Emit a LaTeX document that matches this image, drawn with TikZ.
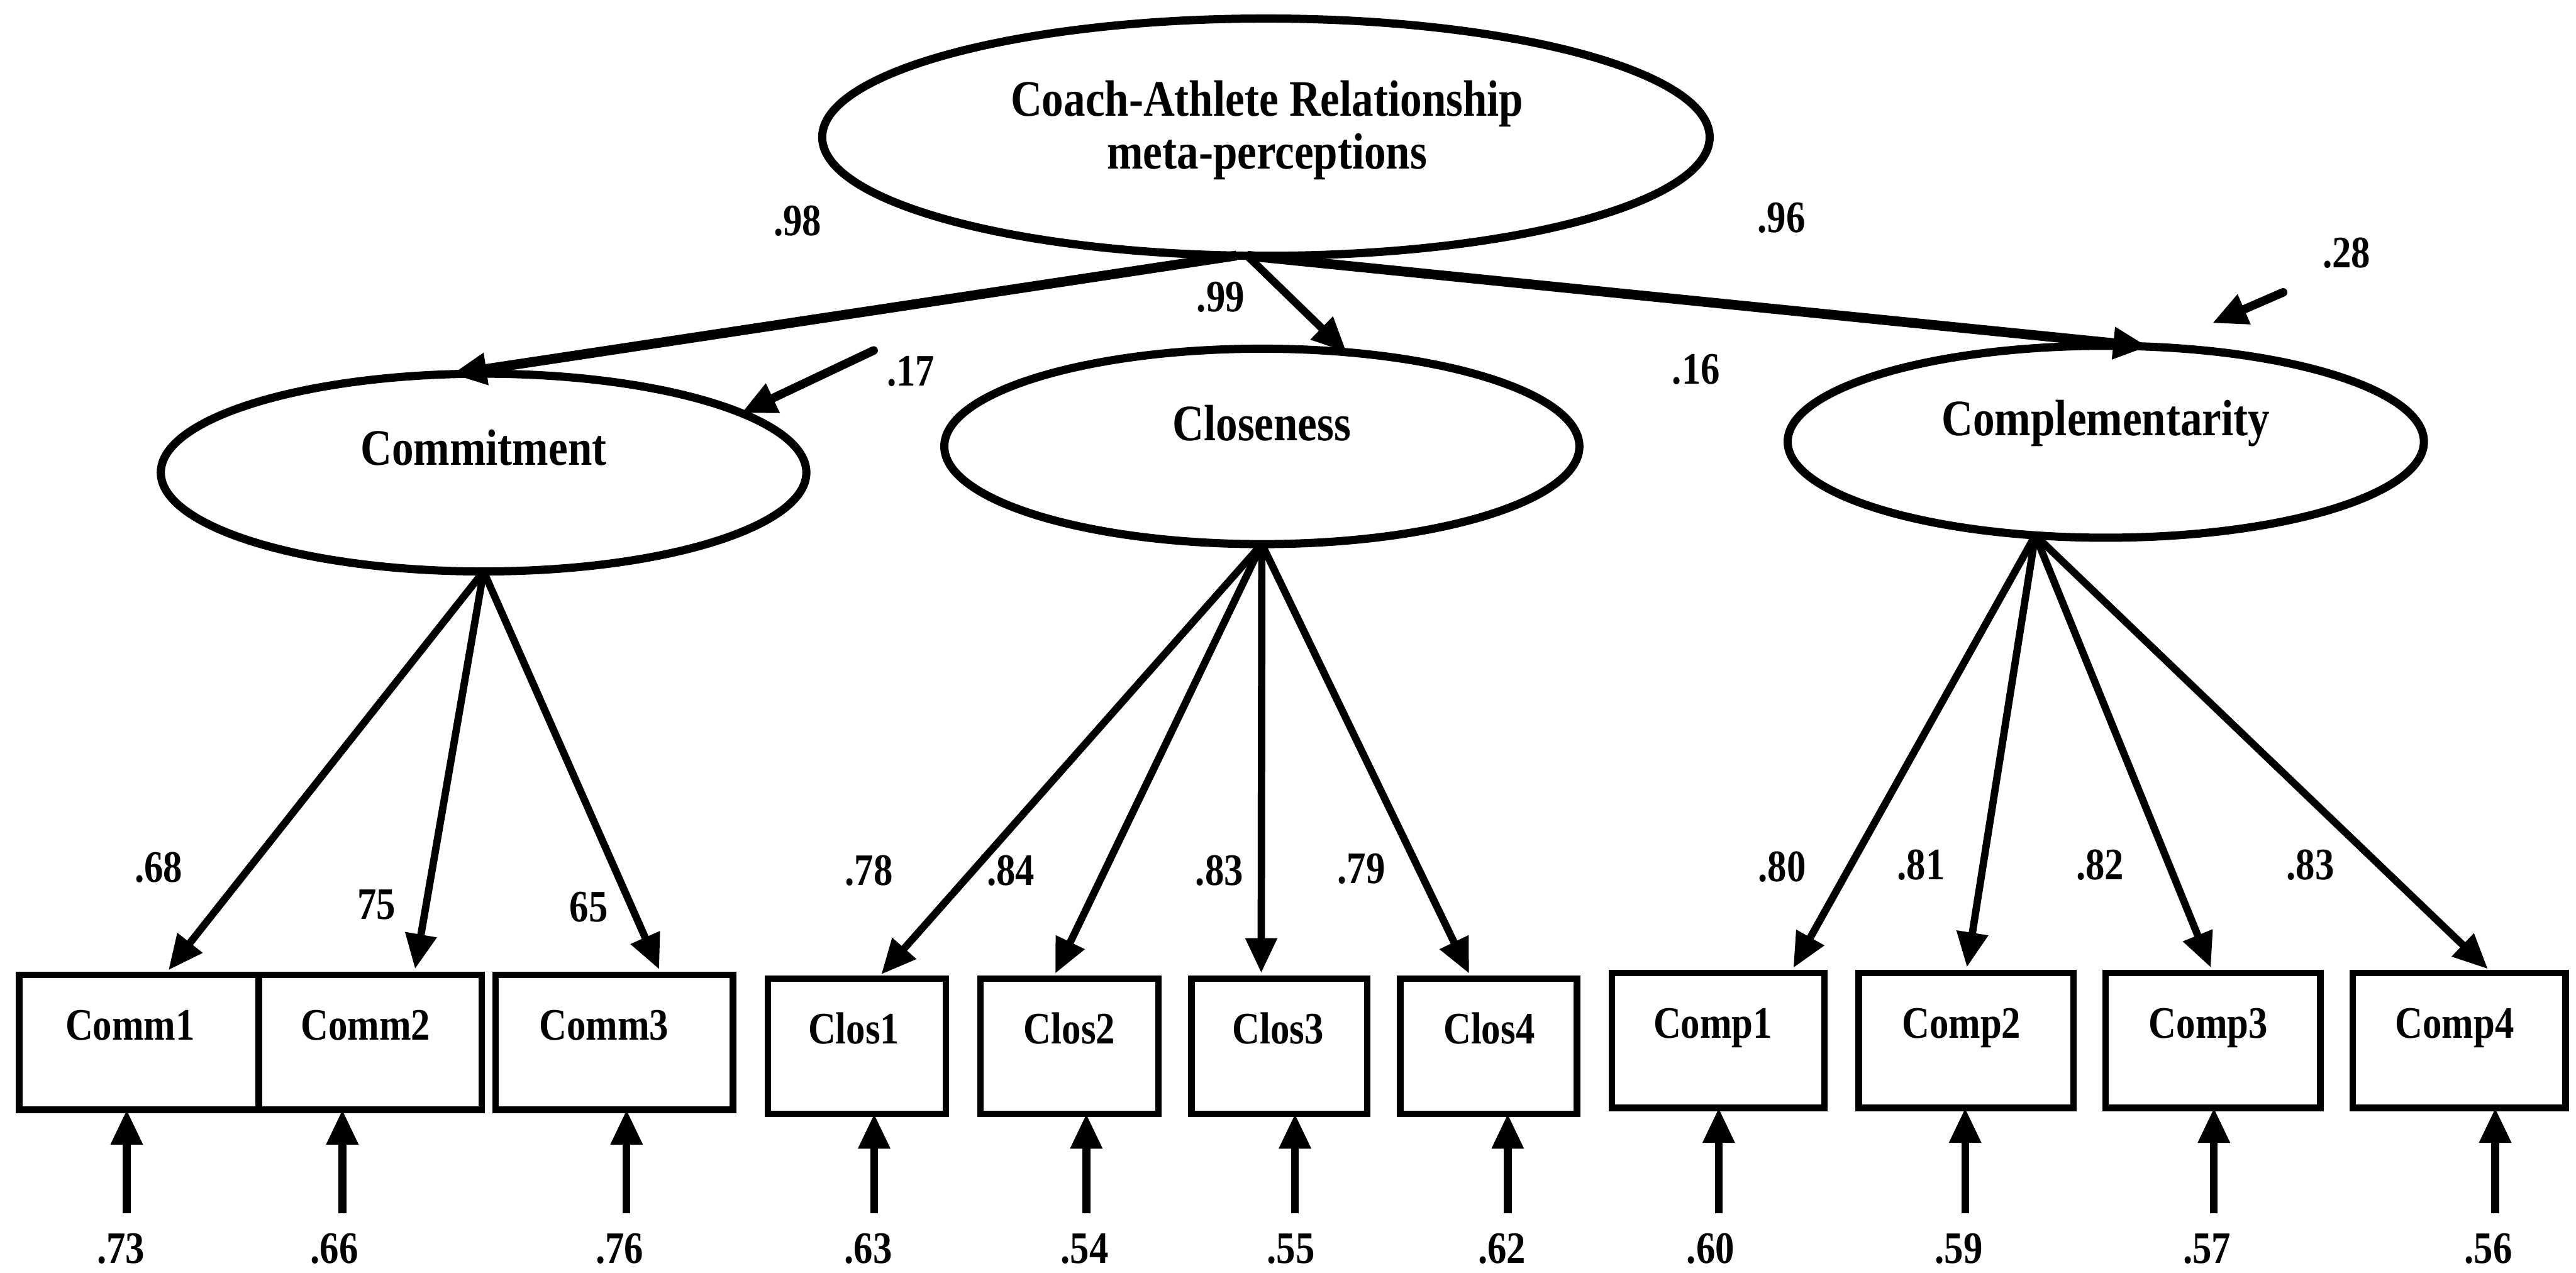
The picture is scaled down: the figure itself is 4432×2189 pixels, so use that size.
\documentclass[tikz,border=0pt]{standalone}
\usepackage{fontspec}
\setmainfont[FakeStretch=0.85]{Liberation Serif}
\usetikzlibrary{arrows.meta,calc,shapes.geometric}

\newcommand\latfont{\fontsize{25pt}{30pt}\selectfont\bfseries}
\newcommand\obsfont{\fontsize{22pt}{26pt}\selectfont\bfseries}
\newcommand\valfont{\fontsize{22pt}{26pt}\selectfont\bfseries}

\tikzset{
  latent/.style={draw, ellipse, line width=4pt, inner sep=0pt, outer sep=0pt},
  obsbox/.style={draw, rectangle, line width=3.2pt, inner sep=0pt, outer sep=0pt, minimum height=2.32cm},
  lbl/.style={font=\latfont, inner sep=0pt, anchor=base},
  obslbl/.style={font=\obsfont, inner sep=0pt, anchor=base},
  val/.style={font=\valfont, inner sep=0pt},
  headed/.style={-{Triangle[length=0.6cm,width=0.52cm]}},
  structural/.style={headed, line width=4.8pt},
  loading/.style={headed, line width=3.6pt, shorten >=0.1cm},
  errpath/.style={headed, line width=3.8pt},
  disturb/.style={headed, line width=4.2pt, line cap=round},
}

\begin{document}
\begin{tikzpicture}[x=0.01cm, y=-0.01cm]
  \useasboundingbox (0,0) rectangle (4432,2189);

  % second-order factor
  \node[latent, minimum width=15.26cm, minimum height=4.08cm] (top) at (2178,236) {};
  \node[lbl] (topa) at (2180,200) {Coach-Athlete Relationship};
  \node[lbl] (topb) at (2180,290) {meta-perceptions};

  % first-order factors
  \node[latent, minimum width=11.10cm, minimum height=3.40cm] (comm) at (832,813) {};
  \node[lbl] (commt) at ($(comm.center)+(0,-13)$) {Commitment};
  \node[latent, minimum width=10.92cm, minimum height=3.36cm] (clos) at (2171,768) {};
  \node[lbl] (clost) at ($(clos.center)+(0,-10)$) {Closeness};
  \node[latent, minimum width=10.94cm, minimum height=3.30cm] (comp) at (3623,760) {};
  \node[lbl] (compt) at ($(comp.center)+(0,-11)$) {Complementarity};

  % indicators
  \node[obsbox, minimum width=4.12cm] (comm1) at (239,1793) {};
  \node[obsbox, minimum width=3.84cm] (comm2) at (637,1793) {};
  \node[obsbox, minimum width=4.08cm] (comm3) at (1057,1793) {};
  \node[obsbox, minimum width=3.06cm] (clos1) at (1474,1800) {};
  \node[obsbox, minimum width=3.06cm] (clos2) at (1840,1800) {};
  \node[obsbox, minimum width=3.02cm] (clos3) at (2201,1800) {};
  \node[obsbox, minimum width=3.04cm] (clos4) at (2561,1800) {};
  \node[obsbox, minimum width=3.66cm] (comp1) at (2956,1790) {};
  \node[obsbox, minimum width=3.69cm] (comp2) at (3382.5,1790) {};
  \node[obsbox, minimum width=3.69cm] (comp3) at (3807.5,1790) {};
  \node[obsbox, minimum width=3.66cm] (comp4) at (4231,1790) {};

  \node[obslbl] (comm1t) at ($(comm1.north)+(-15,112)$) {Comm1};
  \node[obslbl] (comm2t) at ($(comm2.north)+(-8,112)$) {Comm2};
  \node[obslbl] (comm3t) at ($(comm3.north)+(-18,112)$) {Comm3};
  \node[obslbl] (clos1t) at ($(clos1.north)+(-5,112)$) {Clos1};
  \node[obslbl] (clos2t) at ($(clos2.north)+(0,112)$) {Clos2};
  \node[obslbl] (clos3t) at ($(clos3.north)+(-2,112)$) {Clos3};
  \node[obslbl] (clos4t) at ($(clos4.north)+(1,112)$) {Clos4};
  \node[obslbl] (comp1t) at ($(comp1.north)+(-9,112)$) {Comp1};
  \node[obslbl] (comp2t) at ($(comp2.north)+(-8,112)$) {Comp2};
  \node[obslbl] (comp3t) at ($(comp3.north)+(-8,112)$) {Comp3};
  \node[obslbl] (comp4t) at ($(comp4.north)+(-8,112)$) {Comp4};

  % structural paths
  \draw[structural] (top.256) -- (comm.108);
  \draw[headed, line width=3.8pt] (top.261) -- (clos.48);
  \draw[structural] (top.261) -- (comp.66);
  \node[val] (g1) at (1372,380) {.98};
  \node[val] (g2) at (2100,511) {.99};
  \node[val] (g3) at (3065,375) {.96};

  % disturbances
  \coordinate (d1) at (1503,603);
  \draw[disturb] (d1) -- (comm.13);
  \coordinate (d3) at (3928,503);
  \coordinate (d3e) at (3806,556);
  \draw[disturb] (d3) -- (d3e);
  \node[val] (r1) at (1567,639) {.17};
  \node[val] (r2) at (2918,635) {.16};
  \node[val] (r3) at (4037,435) {.28};

  % factor loadings
  \draw[loading] (comm.south) -- (comm1.69);
  \draw[loading] (comm.south) -- (comm2.57);
  \draw[loading] (comm.south) -- (comm3.55);
  \draw[loading] (clos.south) -- (clos1.73);
  \draw[loading] (clos.south) -- (clos2.104);
  \draw[loading] (clos.south) -- (clos3.105);
  \draw[loading] (clos.south) -- (clos4.104);
  \draw[loading] (comp.233) -- (comp1.43);
  \draw[loading] (comp.233) -- (comp2.90);
  \draw[loading] (comp.233) -- (comp3.90);
  \draw[loading] (comp.233) -- (comp4.64);

  \node[val] (l1) at (273,1492) {.68};
  \node[val] (l2) at (648,1556) {75};
  \node[val] (l3) at (1013,1561) {65};
  \node[val] (l4) at (1495,1498) {.78};
  \node[val] (l5) at (1739,1498) {.84};
  \node[val] (l6) at (2098,1498) {.83};
  \node[val] (l7) at (2342,1495) {.79};
  \node[val] (l8) at (3066,1491) {.80};
  \node[val] (l9) at (3305,1488) {.81};
  \node[val] (l10) at (3613,1488) {.82};
  \node[val] (l11) at (3975,1488) {.83};

  % measurement errors
  \coordinate (e1) at (218,2087);
  \coordinate (e2) at (589,2087);
  \coordinate (e3) at (1078,2087);
  \coordinate (e4) at (1504,2087);
  \coordinate (e5) at (1869,2087);
  \coordinate (e6) at (2228,2087);
  \coordinate (e7) at (2594,2087);
  \coordinate (e8) at (2957,2087);
  \coordinate (e9) at (3381,2087);
  \coordinate (e10) at (3809,2087);
  \coordinate (e11) at (4293,2087);
  \draw[errpath] (e1) -- (e1 |- comm1.south);
  \draw[errpath] (e2) -- (e2 |- comm2.south);
  \draw[errpath] (e3) -- (e3 |- comm3.south);
  \draw[errpath] (e4) -- (e4 |- clos1.south);
  \draw[errpath] (e5) -- (e5 |- clos2.south);
  \draw[errpath] (e6) -- (e6 |- clos3.south);
  \draw[errpath] (e7) -- (e7 |- clos4.south);
  \draw[errpath] (e8) -- (e8 |- comp1.south);
  \draw[errpath] (e9) -- (e9 |- comp2.south);
  \draw[errpath] (e10) -- (e10 |- comp3.south);
  \draw[errpath] (e11) -- (e11 |- comp4.south);

  \node[val] (u1) at (208,2148) {.73};
  \node[val] (u2) at (575,2148) {.66};
  \node[val] (u3) at (1066,2148) {.76};
  \node[val] (u4) at (1494,2148) {.63};
  \node[val] (u5) at (1866,2148) {.54};
  \node[val] (u6) at (2221,2148) {.55};
  \node[val] (u7) at (2584,2148) {.62};
  \node[val] (u8) at (2943,2148) {.60};
  \node[val] (u9) at (3370,2148) {.59};
  \node[val] (u10) at (3797,2148) {.57};
  \node[val] (u11) at (4281,2148) {.56};
\end{tikzpicture}
\end{document}
